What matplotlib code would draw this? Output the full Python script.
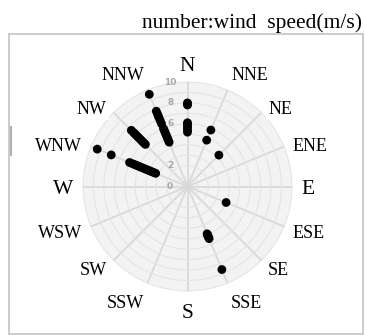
import numpy as np
import matplotlib
matplotlib.use("Agg")
import matplotlib.pyplot as plt
from matplotlib.patches import Rectangle
from matplotlib.lines import Line2D

# ---- data ----
directions = ['N', 'NNE', 'NE', 'ENE', 'E', 'ESE', 'SE', 'SSE',
              'S', 'SSW', 'SW', 'WSW', 'W', 'WNW', 'NW', 'NNW']
direction_angles = [0, 22.5, 45, 67.5, 90, 112.5, 135, 157.5,
                    180, 202.5, 225, 247.5, 270, 292.5, 315, 337.5]

n_speeds = [5.2, 5.4, 5.6, 5.8, 6.0, 6.1, 7.8, 7.9, 8.0]
nne_speeds = [4.8, 5.85]
ne_speeds = [4.25]
ese_speeds = [4.0]
sse_speeds = [4.9, 5.0, 5.1, 5.2, 5.3, 5.4, 8.6]
wnw_speeds = [3.3, 3.5, 3.7, 3.9, 4.1, 4.3, 4.5, 4.7, 4.9, 5.1, 5.3, 5.5,
              5.7, 6.0, 7.9, 9.35]
nw_speeds = [5.7, 5.9, 6.1, 6.3, 6.5, 6.7, 6.9, 7.1, 7.3, 7.6]
nnw_speeds = [4.6, 4.8, 5.0, 5.2, 5.4, 5.6, 5.8, 6.0, 6.5, 6.8, 7.1, 7.3,
              7.5, 7.8, 9.55]

speeds_by_direction = {
    'N': n_speeds, 'NNE': nne_speeds, 'NE': ne_speeds, 'ESE': ese_speeds,
    'SSE': sse_speeds, 'WNW': wnw_speeds, 'NW': nw_speeds, 'NNW': nnw_speeds,
}

r_ticks = [0, 2, 4, 6, 8, 10]
r_tick_labels = ['0', '2', '4', '6', '8', '10']
title_text = 'number:wind  speed(m/s)'

# ---- figure ----
W, H = 366, 335
fig = plt.figure(figsize=(W / 100, H / 100), dpi=100)
fig.patch.set_facecolor('white')

cx, cy, R = 187.5, 186.5, 105.0
RMAX = 10.05
ax = fig.add_axes([(cx - R) / W, (H - cy - R) / H, 2 * R / W, 2 * R / H],
                  projection='polar')
ax.set_theta_zero_location('N')
ax.set_theta_direction(-1)
ax.set_facecolor('#f3f3f3')
ax.set_ylim(0, RMAX)
ax.spines['polar'].set_visible(False)

# grid
ax.set_xticks(np.radians(direction_angles))
ax.set_xticklabels([])
ax.set_yticks(np.arange(1, 11))
ax.set_yticklabels([])
ax.xaxis.grid(True, color='#d9d9d9', lw=1.3)
ax.yaxis.grid(True, color='#e4e4e4', lw=0.8)

# direction labels placed just outside the circle
pad_pt = 6.5
drop_pt = 2.3
for name, deg in zip(directions, direction_angles):
    th = np.radians(deg)
    s, c = np.sin(th), np.cos(th)
    ha = 'left' if s > 0.2 else ('right' if s < -0.2 else 'center')
    va = 'bottom' if c > 0.8 else ('top' if c < -0.8 else 'center')
    ax.annotate(name, xy=(th, RMAX), xytext=(pad_pt * s, pad_pt * c - drop_pt),
                textcoords='offset points', ha=ha, va=va,
                fontsize=15.5 if name in ('N', 'E', 'S', 'W') else 13,
                family='Liberation Serif', color='black', annotation_clip=False,
                bbox=dict(facecolor='white', edgecolor='none', pad=1.5), zorder=6)

# radial labels
for v, s in zip(r_ticks, r_tick_labels):
    ax.annotate(s, xy=(0, v), xytext=(-12.5, 0), textcoords='offset points',
                ha='center', va='center', fontsize=6.5, color='#a8a8a8',
                fontweight='bold', zorder=4)

# points
for d, sp in speeds_by_direction.items():
    ang = np.radians(direction_angles[directions.index(d)])
    ax.scatter([ang] * len(sp), sp, s=40, color='black', zorder=5,
               edgecolors='none', clip_on=False)

# frame
fig.patches.append(Rectangle((9 / W, (H - 334) / H), (363 - 9) / W, (334 - 34) / H,
                             transform=fig.transFigure, facecolor='none',
                             edgecolor='#c4c4c4', lw=1.2, zorder=0))
fig.lines.append(Line2D([11 / W, 11 / W], [(H - 127) / H, (H - 155) / H],
                        transform=fig.transFigure, color='#b0b0b0', lw=1.5))

fig.text(362 / W, (H - 27.7) / H, title_text, ha='right', va='baseline',
         fontsize=15.5, family='Liberation Serif', color='black')

fig.savefig('out.png', dpi=100)
